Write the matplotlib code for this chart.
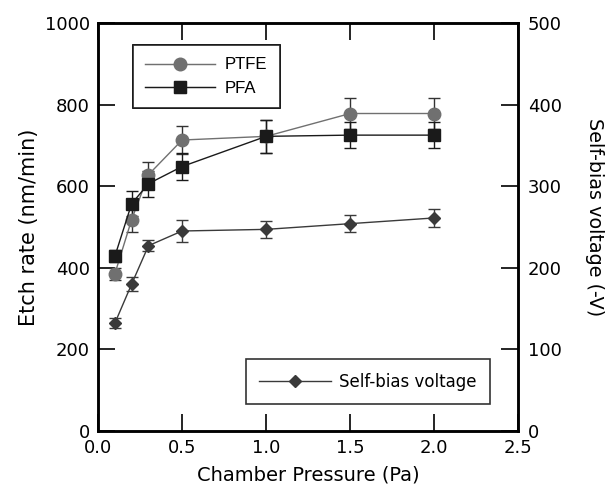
import matplotlib
matplotlib.use("Agg")
import matplotlib.pyplot as plt
from matplotlib.lines import Line2D

pressure = [0.1, 0.2, 0.3, 0.5, 1.0, 1.5, 2.0]
ptfe = [385, 518, 628, 713, 722, 778, 778]
ptfe_err = [15, 30, 32, 34, 40, 38, 38]
pfa = [428, 557, 606, 648, 722, 725, 725]
pfa_err = [15, 30, 32, 32, 40, 32, 32]
bias = [132, 180, 227, 245, 247, 254, 261]
bias_err = [6, 9, 7, 13, 10, 10, 11]

c_ptfe = '#707070'
c_pfa = '#1a1a1a'
c_bias = '#3a3a3a'

plt.rcParams['font.family'] = ['DejaVu Sans']
fig = plt.figure(figsize=(6.09, 4.88), dpi=100)
ax = fig.add_axes([0.161, 0.117, 0.690, 0.836])
ax2 = ax.twinx()

ax.errorbar(pressure, ptfe, yerr=ptfe_err, color=c_ptfe, marker='o', ms=9,
            lw=1.0, capsize=4, elinewidth=1.0, ecolor='#333333')
ax.errorbar(pressure, pfa, yerr=pfa_err, color=c_pfa, marker='s', ms=8.5,
            lw=1.0, capsize=4, elinewidth=1.0, ecolor=c_pfa)
ax2.errorbar(pressure, bias, yerr=bias_err, color=c_bias, marker='D', ms=6.5,
             lw=1.0, capsize=4, elinewidth=1.0, ecolor=c_bias)

ax.set_xlim(0, 2.5)
ax.set_ylim(0, 1000)
ax2.set_ylim(0, 500)
ax.set_xticks([0.0, 0.5, 1.0, 1.5, 2.0, 2.5])
ax.set_yticks([0, 200, 400, 600, 800, 1000])
ax2.set_yticks([0, 100, 200, 300, 400, 500])
ax.xaxis.set_major_formatter(matplotlib.ticker.FormatStrFormatter('%.1f'))

ax.tick_params(axis='both', direction='in', length=12, width=1.2, labelsize=13,
               top=True, labeltop=False, pad=6)
ax2.tick_params(axis='y', direction='in', length=12, width=1.2, labelsize=13, pad=7)
for a in (ax, ax2):
    for s in a.spines.values():
        s.set_linewidth(1.8)

ax.set_xlabel('Chamber Pressure (Pa)', fontsize=14, labelpad=6)
ax.set_ylabel('Etch rate (nm/min)', fontsize=15, labelpad=4)
ax2.set_ylabel('Self-bias voltage (-V)', fontsize=13.8, rotation=270,
               va='center', ha='center')
ax2.yaxis.set_label_coords(1.181, 0.523)

h1 = Line2D([], [], color=c_ptfe, marker='o', ms=9, lw=1.0)
h2 = Line2D([], [], color=c_pfa, marker='s', ms=8.5, lw=1.0)
h3 = Line2D([], [], color=c_bias, marker='D', ms=6.5, lw=1.0)

leg1 = ax.legend(handles=[h1, h2], labels=['PTFE', 'PFA'], loc='upper left',
                 bbox_to_anchor=(0.083, 0.946), borderaxespad=0, frameon=True,
                 fancybox=False, edgecolor='black',
                 prop={'family': 'Liberation Sans', 'size': 12},
                 handlelength=4.15, handletextpad=0.6, borderpad=0.75, labelspacing=0.5)
leg1.get_frame().set_linewidth(1.2)
ax.add_artist(leg1)
leg2 = ax2.legend(handles=[h3], labels=['Self-bias voltage'], loc='lower right',
                  bbox_to_anchor=(0.933, 0.066), borderaxespad=0, frameon=True,
                  fancybox=False, edgecolor='black',
                  prop={'family': 'DejaVu Sans', 'size': 12},
                  handlelength=4.3, handletextpad=0.5, borderpad=0.8)
leg2.get_frame().set_linewidth(1.2)

fig.savefig('out.png', dpi=100)
